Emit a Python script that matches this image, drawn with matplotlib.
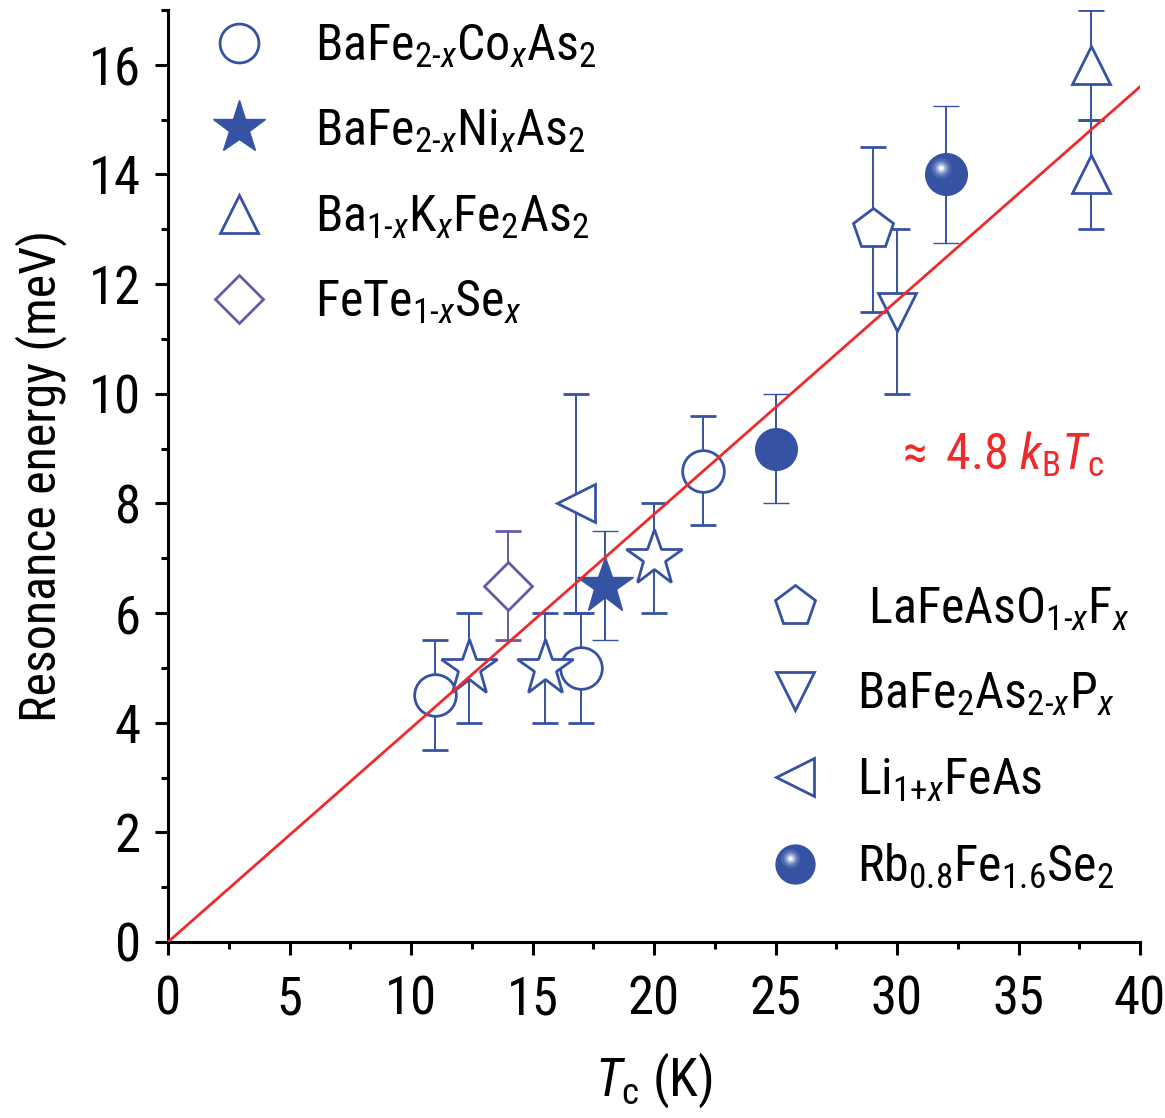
import matplotlib
matplotlib.use("Agg")
import matplotlib.pyplot as plt
import numpy as np
from matplotlib import font_manager as fm
from matplotlib.path import Path
from matplotlib.lines import Line2D
from matplotlib.legend_handler import HandlerTuple
from matplotlib.ticker import MultipleLocator

# pick a narrow sans font if one is installed, otherwise Liberation Sans and a smaller size
narrow = None
for pref in ['Liberation Sans Narrow', 'Arial Narrow', 'Roboto Condensed', 'Open Sans Condensed',
             'Noto Sans Condensed', 'DejaVu Sans Condensed']:
    if any(f.name == pref for f in fm.fontManager.ttflist):
        narrow = pref
        break
if narrow is None:
    for f in fm.fontManager.ttflist:
        if ('Narrow' in f.name or 'Condensed' in f.name) and 'CJK' not in f.name:
            narrow = f.name
            break

if narrow:
    base = narrow
    sc = 1.0
else:
    base = 'Liberation Sans'
    sc = 0.84

plt.rcParams['font.family'] = [base, 'DejaVu Sans']
plt.rcParams['mathtext.fontset'] = 'custom'
plt.rcParams['mathtext.rm'] = base
plt.rcParams['mathtext.it'] = base + ':italic'
plt.rcParams['mathtext.bf'] = base + ':bold'

# Data (Tc in K, resonance energy in meV, symmetric error)
co_tc = [11, 17, 22]
co_e = [4.5, 5.0, 8.6]
co_err = [1.0, 1.0, 1.0]

ni_tc = [18]
ni_e = [6.5]
ni_err = [1.0]

ni_open_tc = [12.4, 15.5, 20]
ni_open_e = [5.0, 5.0, 7.0]
ni_open_err = [1.0, 1.0, 1.0]

k_tc = [38, 38]
k_e = [16.0, 14.0]
k_err = [1.0, 1.0]

fts_tc = [14]
fts_e = [6.5]
fts_err = [1.0]

la_tc = [29]
la_e = [13.0]
la_err = [1.5]

p_tc = [30]
p_e = [11.5]
p_err = [1.5]

li_tc = [16.8]
li_e = [8.0]
li_err = [2.0]

rb_tc = [32]
rb_e = [14.0]
rb_err = [1.25]

fe_tc = [25]
fe_e = [9.0]
fe_err = [1.0]

fit_tc = [0, 40]
fit_e = [0, 15.6]

blue = '#3652a2'
purple = '#6a58a6'
red = '#ee2a2a'

fig = plt.figure(figsize=(11.65, 11.18), dpi=100)
ax = fig.add_axes([168 / 1165, 1 - 942 / 1118, (1140 - 168) / 1165, (942 - 10) / 1118])

eb = dict(ecolor=blue, elinewidth=1.4, capsize=9.5, capthick=1.4, linestyle='none')

ax.errorbar(co_tc, co_e, yerr=co_err, marker='o', ms=30, mfc='white', mec=blue, mew=2.0, **eb)
ax.errorbar(ni_open_tc, ni_open_e, yerr=ni_open_err, marker='*', ms=42, mfc='white', mec=blue, mew=2.0, **eb)
ax.errorbar(ni_tc, ni_e, yerr=ni_err, marker='*', ms=42, mfc=blue, mec=blue, mew=1.0, **eb)
ax.errorbar(k_tc, k_e, yerr=k_err, marker='^', ms=28, mfc='white', mec=blue, mew=2.0, **eb)
ax.errorbar(fts_tc, fts_e, yerr=fts_err, marker='D', ms=24, mfc='white', mec=purple, mew=2.0,
            ecolor=purple, elinewidth=1.4, capsize=9.5, capthick=1.4, linestyle='none')
ax.errorbar(la_tc, la_e, yerr=la_err, marker='p', ms=30, mfc='white', mec=blue, mew=2.0, **eb)
ax.errorbar(p_tc, p_e, yerr=p_err, marker='v', ms=28, mfc='white', mec=blue, mew=2.0, **eb)
ax.errorbar(li_tc, li_e, yerr=li_err, marker='<', ms=28, mfc='white', mec=blue, mew=2.0, **eb)
ax.errorbar(fe_tc, fe_e, yerr=fe_err, marker='o', ms=30, mfc=blue, mec=blue, mew=1.0, **eb)
ax.errorbar(rb_tc, rb_e, yerr=rb_err, marker='o', ms=30, mfc=blue, mec=blue, mew=1.0, **eb)


def spot(cx, cy, r):
    c = Path.unit_circle()
    verts = np.vstack([[1, 1], [-1, -1], c.vertices * r + [cx, cy]])
    codes = np.concatenate([[Path.MOVETO, Path.MOVETO], c.codes])
    return Path(verts, codes)


shine = [(0.5, '#4d64ae'), (0.36, '#7084c3'), (0.25, '#a2b0da'), (0.15, '#dde3f3'), (0.07, '#ffffff')]
shine_kw = []
for r, col in shine:
    k = dict(marker=spot(-0.25, 0.3, r), mfc=col, mec='none', linestyle='none')
    shine_kw.append(k)
    ax.plot(rb_tc, rb_e, ms=30, zorder=4, **k)

ax.plot(fit_tc, fit_e, color=red, lw=2.0, zorder=6)

ax.text(29.9, 8.9, r'$\approx$ 4.8 $k_{\mathrm{B}}T_{\mathrm{c}}$', color=red, fontsize=36 * sc,
        va='center', ha='left')

ax.set_xlim(0, 40)
ax.set_ylim(0, 17)
ax.xaxis.set_major_locator(MultipleLocator(5))
ax.xaxis.set_minor_locator(MultipleLocator(2.5))
ax.yaxis.set_major_locator(MultipleLocator(2))
ax.yaxis.set_minor_locator(MultipleLocator(1))
for s in ['top', 'right']:
    ax.spines[s].set_visible(False)
for s in ['left', 'bottom']:
    ax.spines[s].set_linewidth(2.2)
ax.tick_params(which='major', direction='out', length=9.5, width=2.2, labelsize=38 * sc, pad=10)
ax.tick_params(which='minor', direction='out', length=5, width=2.2)
ax.tick_params(axis='x', pad=14)
ax.set_xlabel(r'$T_{\mathrm{c}}$ (K)', fontsize=38 * sc, labelpad=18)
ax.set_ylabel('Resonance energy (meV)', fontsize=36 * sc, labelpad=16)

fs = 36 * sc
mk = dict(linestyle='none', mew=2.0)
h1 = [Line2D([], [], marker='o', ms=28, mfc='white', mec=blue, **mk),
      Line2D([], [], marker='*', ms=40, mfc=blue, mec=blue, linestyle='none', mew=1.0),
      Line2D([], [], marker='^', ms=28, mfc='white', mec=blue, **mk),
      Line2D([], [], marker='D', ms=24, mfc='white', mec=purple, **mk)]
l1 = [r'BaFe$_{\text{2-}x}$Co$_{x}$As$_{2}$',
      r'BaFe$_{\text{2-}x}$Ni$_{x}$As$_{2}$',
      r'Ba$_{\text{1-}x}$K$_{x}$Fe$_{2}$As$_{2}$',
      r'FeTe$_{\text{1-}x}$Se$_{x}$']
leg1 = ax.legend(h1, l1, loc='upper left', bbox_to_anchor=(190 / 1165, 1 + 3 / 1118),
                 bbox_transform=fig.transFigure, frameon=False, fontsize=fs,
                 handlelength=48 / (fs * 100 / 72), handletextpad=52 / (fs * 100 / 72),
                 labelspacing=0.75, borderpad=0)
ax.add_artist(leg1)

rb_handle = tuple([Line2D([], [], marker='o', ms=28, mfc=blue, mec=blue, linestyle='none')] +
                  [Line2D([], [], ms=28, **k) for k in shine_kw])
h2 = [Line2D([], [], marker='p', ms=30, mfc='white', mec=blue, **mk),
      Line2D([], [], marker='v', ms=28, mfc='white', mec=blue, **mk),
      Line2D([], [], marker='<', ms=28, mfc='white', mec=blue, **mk),
      rb_handle]
l2 = [r' LaFeAsO$_{\text{1-}x}$F$_{x}$',
      r'BaFe$_{2}$As$_{\text{2-}x}$P$_{x}$',
      r'Li$_{\text{1+}x}$FeAs',
      r'Rb$_{0.8}$Fe$_{1.6}$Se$_{2}$']
leg2 = ax.legend(h2, l2, loc='upper left', bbox_to_anchor=(746 / 1165, 1 - 560 / 1118),
                 bbox_transform=fig.transFigure, frameon=False, fontsize=fs,
                 handlelength=48 / (fs * 100 / 72), handletextpad=38 / (fs * 100 / 72),
                 labelspacing=0.75, borderpad=0,
                 handler_map={tuple: HandlerTuple(ndivide=1, pad=0)})

fig.savefig('out.png', dpi=100)
